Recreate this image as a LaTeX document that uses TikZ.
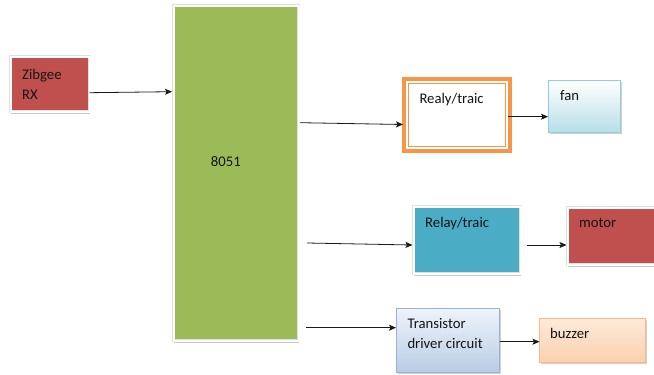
\documentclass[tikz,border=0pt]{standalone}
\usepackage{fontspec}
\setmainfont{Carlito}
\usepackage{xcolor}
\usepackage{tikz}
\usetikzlibrary{arrows.meta, positioning, calc, shadows}

\definecolor{boxred}{HTML}{C0504D}
\definecolor{boxgreen}{HTML}{9BBB59}
\definecolor{boxteal}{HTML}{4BACC6}
\definecolor{boxorange}{HTML}{F79646}
\definecolor{fanedge}{HTML}{93CDDD}
\definecolor{fanbot}{HTML}{B7DEE8}
\definecolor{trsedge}{HTML}{95B3D7}
\definecolor{trstop}{HTML}{EEF3FA}
\definecolor{trsbot}{HTML}{B9CDE5}
\definecolor{buzedge}{HTML}{F9B88A}
\definecolor{buztop}{HTML}{FDEADA}
\definecolor{buzbot}{HTML}{FBD0AE}
\newcommand{\boxfont}{\fontsize{14.7}{20}\selectfont}

\begin{document}
\begin{tikzpicture}[%
  x=1pt, y=-1pt,
  lbl/.style={anchor=base west, align=left, inner sep=0pt, font=\boxfont, text=black!92},
  card/.style={draw=black!12, double=white, double distance=2pt, line width=0.5pt, inner sep=0pt, outer sep=0pt,
    drop shadow={shadow xshift=0.5pt, shadow yshift=-2.5pt, opacity=0.35, fill=black!60}},
  soft/.style={line width=0.7pt, inner sep=0pt, outer sep=0pt,
    drop shadow={shadow xshift=1pt, shadow yshift=-1.5pt, opacity=0.3, fill=black!60}},
  arr/.style={-{Stealth[length=7pt, width=6pt, inset=1.5pt]}, line width=0.8pt, black!90}
]
\useasboundingbox (0,0) rectangle (654,375);

% 1. Receiver and controller
\node[card, fill=boxred, minimum width=79pt, minimum height=55pt,
  label={[lbl, shift={(11.5,42.5)}]north west:Zibgee\\RX}] (zib) at (50,84) {};
\node[card, fill=boxgreen, minimum width=125pt, minimum height=335pt,
  label={[lbl, shift={(37.2,161.2)}]north west:8051}] (mcu) at (236,173) {};
\draw[arr] ($(zib.east)+(0,8.7)$) -- ($(mcu.west)+(-1.5,-81.3)$);

% 2. Fan branch
\node[draw=boxorange, line width=4pt, fill=white, inner sep=0pt, outer sep=0pt, minimum width=106pt, minimum height=72pt,
  label={[lbl, shift={(15.3,24.3)}]north west:Realy/traic}] (relA) at (457,115) {};
\draw[boxorange, line width=0.9pt] ($(relA.north west)+(4.5,4.5)$) rectangle ($(relA.south east)+(-4.5,-4.5)$);
\node[soft, draw=fanedge, top color=white, bottom color=fanbot, minimum width=72pt, minimum height=52pt,
  right=38.5pt of relA, yshift=8.5pt,
  label={[lbl, shift={(11.5,19.5)}]north west:fan}] (fan) {};
\draw[arr] ($(mcu.east)+(1.5,-50.3)$) -- ($(relA.west)+(-1,9.5)$);
\draw[arr] ($(relA.east)+(-2,1.7)$) -- ($(fan.west)+(-0.5,10.2)$);

% 3. Motor branch
\node[card, fill=boxteal, minimum width=107pt, minimum height=67pt,
  label={[lbl, shift={(11.5,20.8)}]north west:Relay/traic}] (relB) at (467,240) {};
\node[card, fill=boxred, minimum width=94pt, minimum height=57pt,
  right=47pt of relB, yshift=4pt,
  label={[lbl, shift={(11.5,20.2)}]north west:motor}] (motor) {};
\draw[arr] ($(mcu.east)+(8.5,70)$) -- ($(relB.west)+(-1,5)$);
\draw[arr] ($(relB.east)+(6,5)$) -- ($(motor.west)+(-1,9)$);

% 4. Buzzer branch
\node[soft, draw=trsedge, top color=trstop, bottom color=trsbot, minimum width=103pt, minimum height=64pt,
  label={[lbl, shift={(10.8,39.8)}]north west:Transistor\\driver circuit}] (trans) at (448,340.5) {};
\node[soft, draw=buzedge, top color=buztop, bottom color=buzbot, minimum width=106pt, minimum height=44pt,
  right=40pt of trans,
  label={[lbl, shift={(10.5,19.8)}]north west:buzzer}] (buzzer) {};
\draw[arr] ($(mcu.east)+(7.5,154.7)$) -- ($(trans.west)+(-0.5,-12.8)$);
\draw[arr] ($(trans.east)+(0,1.2)$) -- ($(buzzer.west)+(0,1.2)$);

\end{tikzpicture}
\end{document}
